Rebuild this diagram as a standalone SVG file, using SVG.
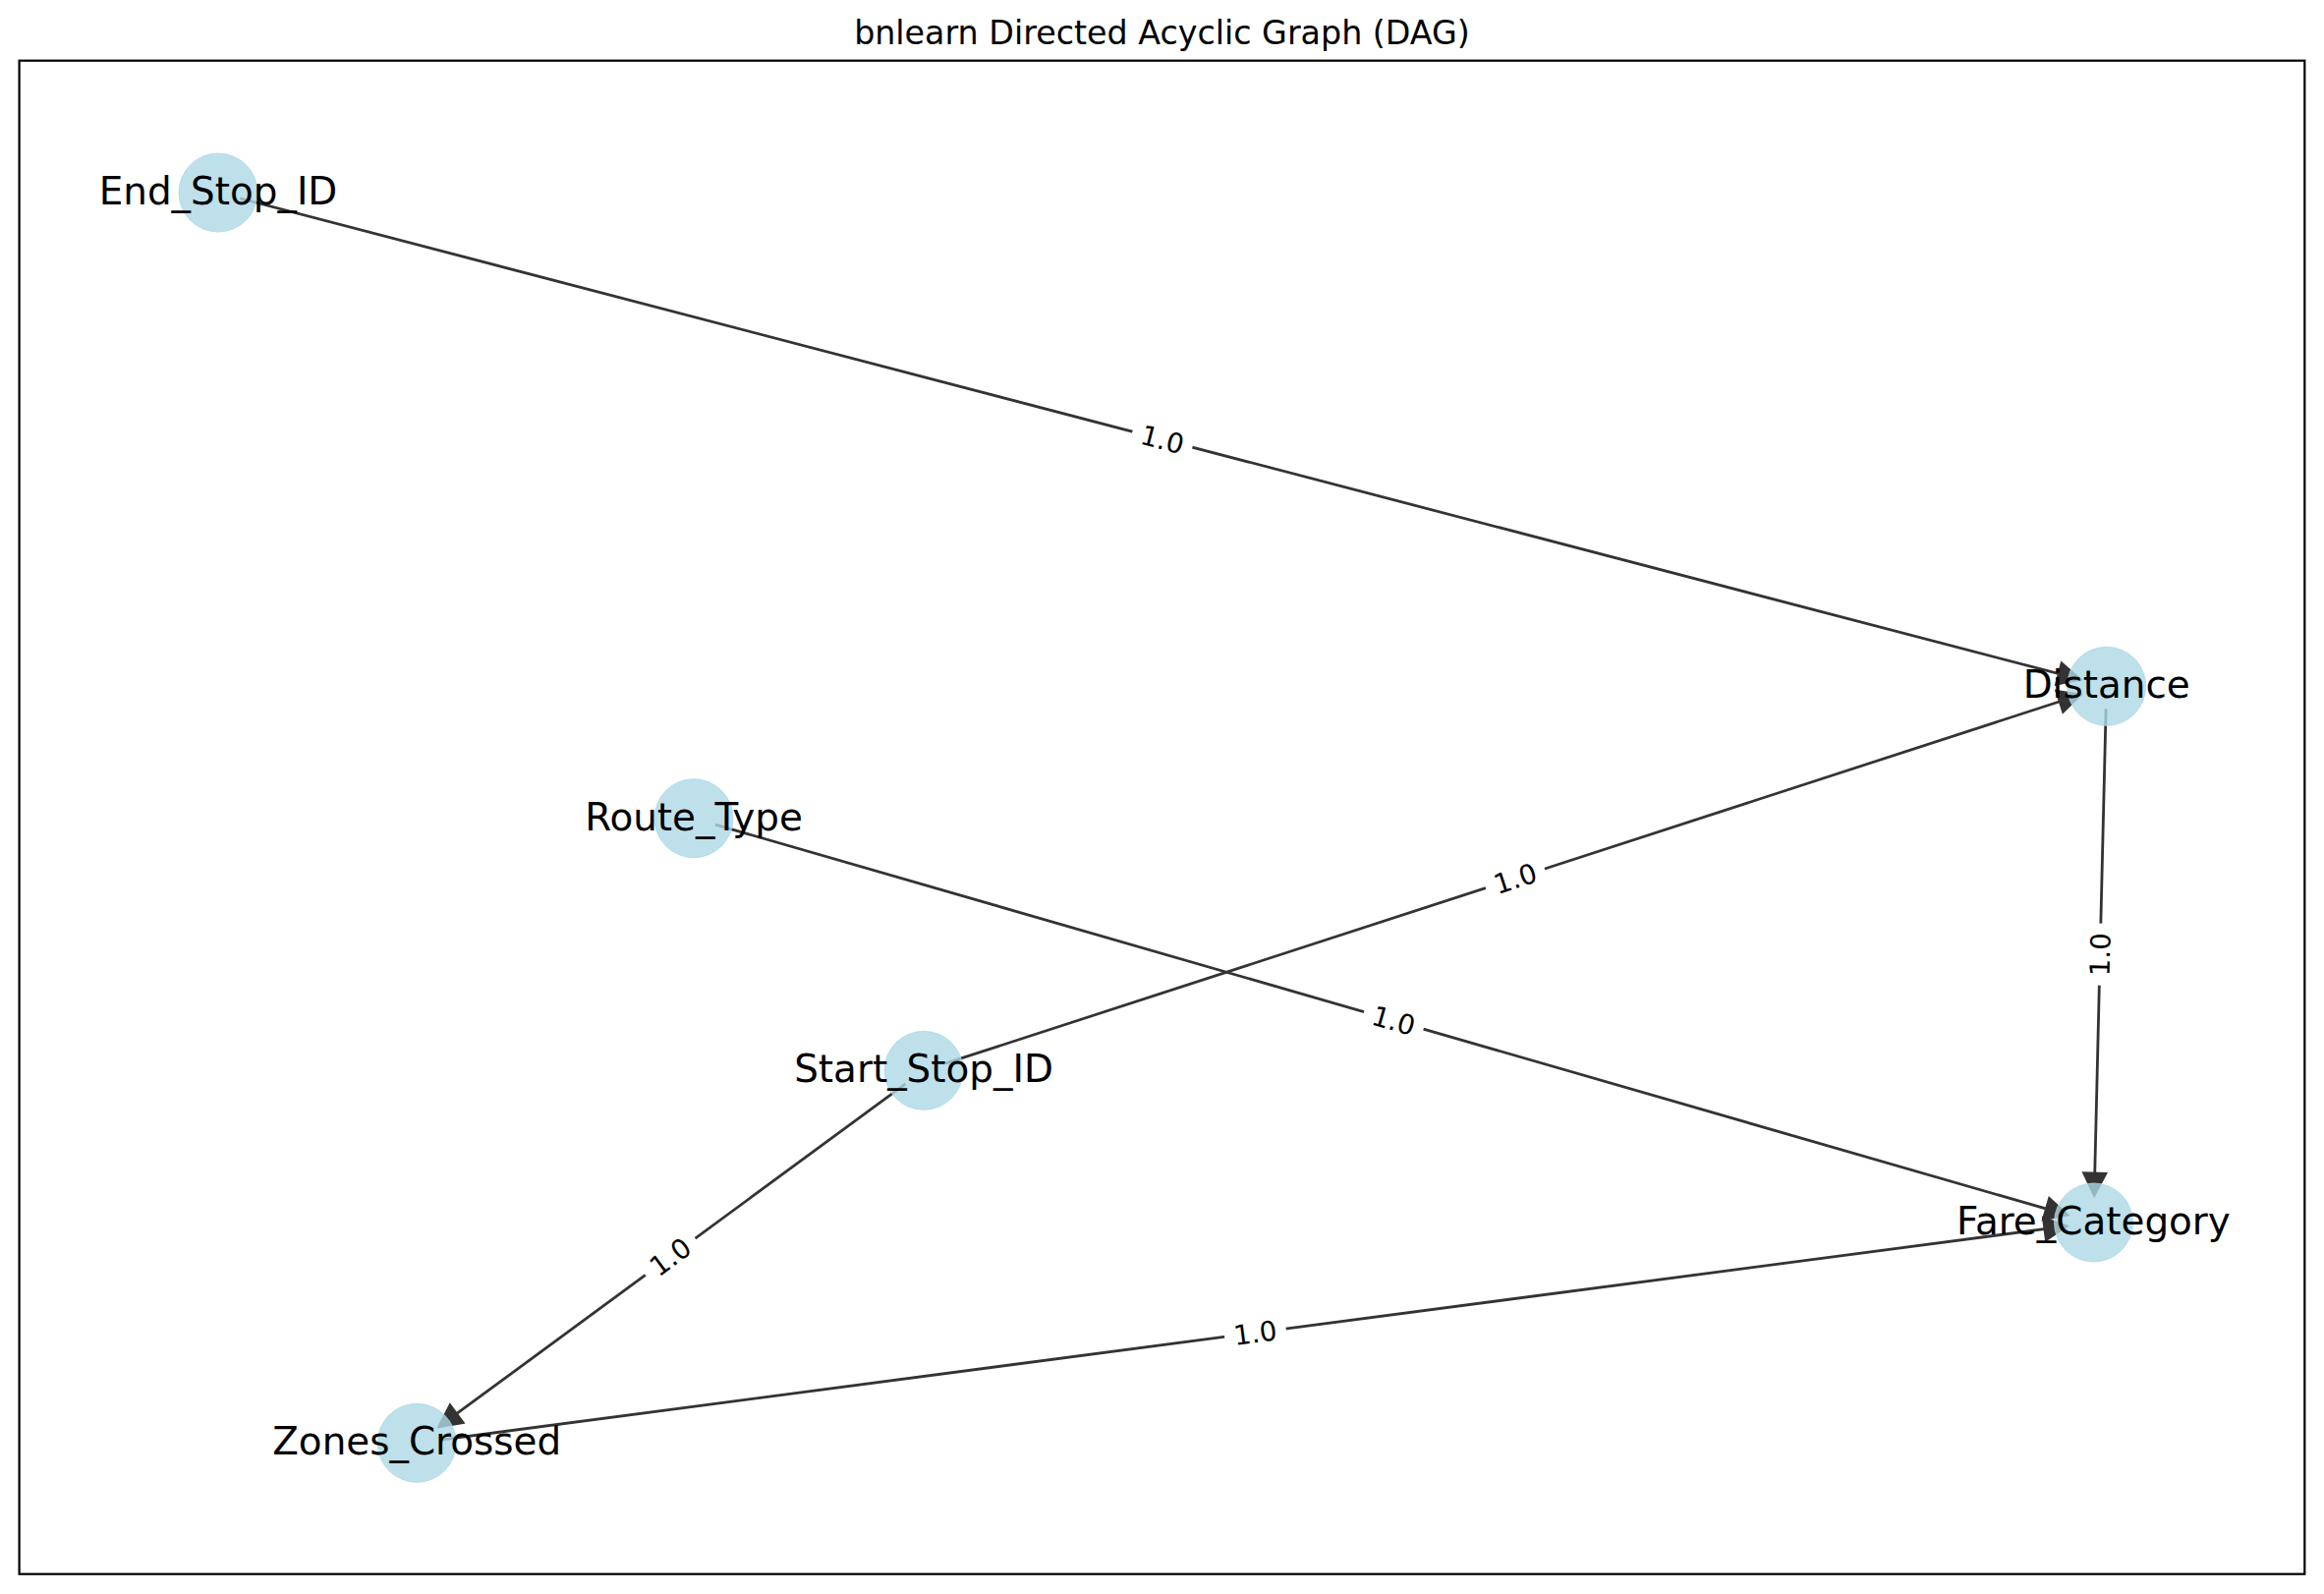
<svg xmlns="http://www.w3.org/2000/svg" width="2365" height="1622" viewBox="0 0 2365 1622">
<style>
.edge{stroke:#333333;stroke-width:2.8;fill:none;marker-end:url(#arr)}
.node circle{fill:#ADD8E6;fill-opacity:0.8;stroke:#ADD8E6;stroke-opacity:0.8;stroke-width:1}
.nlabel{font-family:"DejaVu Sans","Liberation Sans",sans-serif;font-size:38.9px;text-anchor:middle;fill:#000}
.elabel text{font-family:"DejaVu Sans","Liberation Sans",sans-serif;font-size:27.8px;text-anchor:middle;fill:#000}
.elabel rect{fill:#fff;stroke:#fff}
.title{font-family:"DejaVu Sans","Liberation Sans",sans-serif;font-size:33.3px;text-anchor:middle;fill:#000}
</style>
<defs>
<marker id="arr" markerUnits="userSpaceOnUse" viewBox="-28 -16 32 32" refX="0" refY="0" markerWidth="32" markerHeight="32" orient="auto" overflow="visible">
<path d="M-22,-11 L0,0 L-22,11 Z" fill="#333333" stroke="#333333" stroke-width="2.8" stroke-linejoin="miter"/>
</marker>
</defs>
<rect x="0" y="0" width="2365" height="1622" fill="#ffffff"/>
<text class="title" x="1182.5" y="45">bnlearn Directed Acyclic Graph (DAG)</text>
<rect x="19.6" y="61.7" width="2325.7" height="1540" fill="none" stroke="#000" stroke-width="2.2"/>
<g id="connectors">
<line class="edge" x1="244.3" y1="201.8" x2="2116.6" y2="691.2"/>
<line class="edge" x1="961.9" y1="1082.2" x2="2117.1" y2="707.0"/>
<line class="edge" x1="2143.1" y1="721.3" x2="2131.2" y2="1216.0"/>
<line class="edge" x1="728.1" y1="839.1" x2="2103.6" y2="1236.2"/>
<line class="edge" x1="921.5" y1="1102.9" x2="446.8" y2="1451.7"/>
<line class="edge" x1="447.0" y1="1465.3" x2="2102.7" y2="1247.7"/>
</g>
<g id="node-End_Stop_ID" class="node"><circle cx="222" cy="196" r="40"/></g>
<g id="node-Distance" class="node"><circle cx="2143.7" cy="698.3" r="40"/></g>
<g id="node-Route_Type" class="node"><circle cx="706" cy="832.7" r="40"/></g>
<g id="node-Start_Stop_ID" class="node"><circle cx="940" cy="1089.3" r="40"/></g>
<g id="node-Fare_Category" class="node"><circle cx="2130.5" cy="1244" r="40"/></g>
<g id="node-Zones_Crossed" class="node"><circle cx="424.2" cy="1468.3" r="40"/></g>
<g id="edge-labels">
<g class="elabel" transform="translate(1182.9,447.2) rotate(14.65)"><rect x="-31" y="-23" width="62" height="46" rx="8"/><text x="0" y="10">1.0</text></g>
<g class="elabel" transform="translate(1541.9,893.8) rotate(-18.0)"><rect x="-31" y="-23" width="62" height="46" rx="8"/><text x="0" y="10">1.0</text></g>
<g class="elabel" transform="translate(2137.1,971.2) rotate(-88.6)"><rect x="-31" y="-23" width="62" height="46" rx="8"/><text x="0" y="10">1.0</text></g>
<g class="elabel" transform="translate(1418.3,1038.4) rotate(16.1)"><rect x="-31" y="-23" width="62" height="46" rx="8"/><text x="0" y="10">1.0</text></g>
<g class="elabel" transform="translate(682.1,1278.8) rotate(-36.3)"><rect x="-31" y="-23" width="62" height="46" rx="8"/><text x="0" y="10">1.0</text></g>
<g class="elabel" transform="translate(1277.4,1356.2) rotate(-7.5)"><rect x="-31" y="-23" width="62" height="46" rx="8"/><text x="0" y="10">1.0</text></g>
</g>
<g id="node-labels">
<text class="nlabel" x="222" y="208">End_Stop_ID</text>
<text class="nlabel" x="2143.7" y="710.3">Distance</text>
<text class="nlabel" x="706" y="844.7">Route_Type</text>
<text class="nlabel" x="940" y="1101.3">Start_Stop_ID</text>
<text class="nlabel" x="2130.5" y="1256">Fare_Category</text>
<text class="nlabel" x="424.2" y="1480.3">Zones_Crossed</text>
</g>
</svg>
